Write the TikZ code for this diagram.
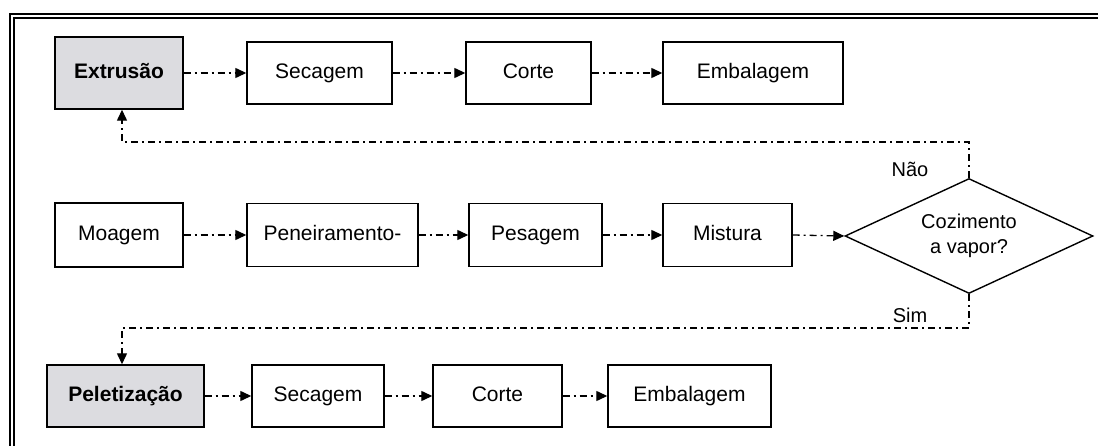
\documentclass[tikz,border=0pt]{standalone}
\usepackage{fontspec}
\setmainfont{Liberation Sans}
\usetikzlibrary{arrows.meta,shapes.geometric}
\definecolor{boxgray}{HTML}{DCDCE0}
\tikzset{
  procbox/.style={draw=black, line width=1.4pt, fill=white, inner sep=0pt,
    text height=15pt, text depth=4.5pt,
    font=\fontsize{21}{25}\selectfont},
  keybox/.style={procbox, fill=boxgray, font=\fontsize{21}{25}\selectfont\bfseries},
  decision/.style={draw=black, line width=1.4pt, diamond, shape aspect=2.16,
    inner sep=0pt, minimum width=248pt, minimum height=115pt, align=center,
    font=\fontsize{20}{25}\selectfont},
  flow/.style={line width=1.3pt, dash pattern=on 7pt off 4pt on 2pt off 4pt,
    -{Triangle[length=11pt,width=10pt]}},
  branchlabel/.style={font=\fontsize{20}{24}\selectfont, inner sep=0pt},
  frameline/.style={line width=1.5pt}
}
\begin{document}
\begin{tikzpicture}[x=1pt,y=-1pt]
\useasboundingbox (0,0) rectangle (1098,446);
% double border
\draw[frameline] (10,446) -- (10,14) -- (1098,14);
\draw[frameline] (14,446) -- (14,18) -- (1098,18);

% extrusion line
\node[keybox, minimum width=128pt, minimum height=72pt] (ext) at (119,73) {Extrusão};
\node[procbox, minimum width=145pt, minimum height=62pt] (sec1) at (319.5,73) {Secagem};
\node[procbox, minimum width=125pt, minimum height=62pt] (cor1) at (528.5,73) {Corte};
\node[procbox, minimum width=180pt, minimum height=62pt] (emb1) at (753,73) {Embalagem};

% common preparation line
\node[procbox, minimum width=128pt, minimum height=64pt] (moa) at (119,235) {Moagem};
\node[procbox, minimum width=171pt, minimum height=63pt] (pen) at (332.5,235) {Peneiramento-};
\node[procbox, minimum width=133pt, minimum height=63pt] (pes) at (535.5,235) {Pesagem};
\node[procbox, minimum width=129pt, minimum height=63pt] (mis) at (727.5,235) {Mistura};
\node[decision] (dec) at (969,236) {Cozimento\\a vapor?};

% pelleting line
\node[keybox, minimum width=157pt, minimum height=62pt] (pel) at (125.5,396) {Peletização};
\node[procbox, minimum width=132pt, minimum height=62pt] (sec2) at (318,396) {Secagem};
\node[procbox, minimum width=129pt, minimum height=62pt] (cor2) at (497.5,396) {Corte};
\node[procbox, minimum width=163pt, minimum height=62pt] (emb2) at (689.5,396) {Embalagem};

% flow connectors
\draw[flow] (ext) -- (sec1);
\draw[flow] (sec1) -- (cor1);
\draw[flow] (cor1) -- (emb1);

\draw[flow] (moa) -- (pen);
\draw[flow] (pen) -- (pes);
\draw[flow] (pes) -- (mis);
\draw[flow] (mis.east) -- (dec.west);

\draw[flow] (pel) -- (sec2);
\draw[flow] (sec2) -- (cor2);
\draw[flow] (cor2) -- (emb2);

% decision branches (yshift is measured upwards on the page)
\coordinate (naoturn) at (dec.north |- 0,142);
\coordinate (simturn) at (dec.south |- 0,328);
\draw[flow] (dec.north) -- (naoturn) -| ([xshift=3pt]ext.south);
\draw[flow] (dec.south) -- (simturn) -| ([xshift=-3.5pt]pel.north);
\node[branchlabel] (nao) at (910,169) {Não};
\node[branchlabel] (sim) at (910,315) {Sim};
\end{tikzpicture}
\end{document}
